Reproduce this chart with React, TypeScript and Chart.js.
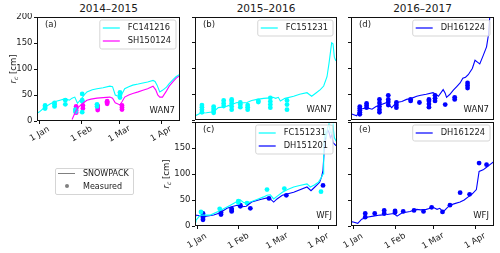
import React, { useEffect, useRef } from 'react';
import { Chart, registerables } from 'chart.js';
Chart.register(...registerables);

const FONT = "'DejaVu Sans', sans-serif";
const CYAN = '#00ffff';
const MAGENTA = '#ff00ff';
const BLUE = '#0000ff';
const TXT = '#1a1a1a';

// month ticks (days since 1 Jan)
const monthLabels = ['1 Jan', '1 Feb', '1 Mar', '1 Apr'];
const ticks2015 = [0, 31, 59, 90];
const ticks2016 = [0, 31, 60, 91];
const ticks2017 = [0, 31, 59, 90];
const yTicks = [0, 50, 100, 150, 200];

// ---- (a) 2014–2015, WAN7
const aFcDays = [-2, 0, 4, 8, 11, 15, 19, 22, 24, 26, 28, 31, 33, 35, 39, 42.5, 47, 52, 54, 56, 59.5, 61, 63, 66, 69, 73, 76.5, 80, 84, 85.5, 87, 89, 91, 94, 96, 99, 101, 104];
const aFcVals = [15, 18, 27, 33, 37, 40, 43, 40, 44, 46, 34, 43, 50, 56, 60, 62, 64, 67, 66, 50, 46, 52, 62, 66, 69, 71, 73, 75, 78, 76, 69, 56, 59, 65, 72, 80, 85, 90];
const aShDays = [24, 26, 28, 31, 33, 35, 38, 42.5, 47, 52, 54, 56, 59.5, 61, 63, 66, 69, 73, 76.5, 80, 84, 86, 87.5, 89, 91, 94, 96, 99, 101, 104];
const aShVals = [3, 15, 25, 32, 36, 40, 42, 44, 45, 46, 44, 35, 31, 37, 46, 50, 53, 56, 59, 62, 67, 60, 50, 46, 46, 58, 67, 76, 82, 88];
const aFcObsDays = [4, 4, 4, 11, 11, 11, 19, 19, 26.5, 26.5, 31.5, 31.5, 31.5, 31.5, 42.5, 42.5, 59.5, 59.5, 59.5];
const aFcObsVals = [24, 27, 30, 28, 32, 35, 32, 40, 18, 22, 17, 38, 40, 52, 28, 32, 45, 50, 55];
const aShObsDays = [27, 27, 27, 27, 32, 32, 43, 43, 43, 50, 50, 50, 61, 61, 61];
const aShObsVals = [16, 20, 24, 28, 24, 30, 21, 25, 29, 33, 36, 38, 22, 26, 30];

// ---- (b) 2015–2016, WAN7
const bFcDays = [-1.5, 2.5, 7, 12.5, 16, 19, 22.5, 26, 30, 33, 37.5, 41, 45, 50, 55, 57, 59, 61, 62.5, 66, 72.5, 77, 82.5, 84, 86, 89, 92.5, 95, 97.5, 99, 101, 102, 103, 104, 105];
const bFcVals = [8, 13, 14, 16, 24, 25, 27, 30, 34, 33, 34, 38, 40, 42, 43, 44, 42, 44, 37, 42, 46, 50, 53, 50, 46, 52, 59, 66, 84, 110, 150, 148, 122, 116, 118];
const bFcObsDays = [3.7, 3.7, 3.7, 3.7, 12.5, 12.5, 12.5, 12.5, 20, 20, 20, 26, 26, 26, 26, 26, 32.5, 32.5, 32.5, 38, 38, 38, 46, 46, 55, 55, 55, 55, 67.5, 67.5, 67.5];
const bFcObsVals = [15, 20, 25, 29, 14, 18, 22, 26, 27, 32, 38, 20, 26, 32, 37, 40, 25, 30, 34, 20, 25, 29, 35, 37, 24, 30, 36, 43, 20, 30, 38];

// ---- (c) 2015–2016, WFJ
const cFcDays = [-1.5, -0.8, 2.5, 10, 17.5, 25, 30, 32.5, 35, 37.5, 41, 45, 50, 52.5, 55, 57.5, 60, 64, 68, 72.5, 77, 82.5, 85, 88, 91, 93, 94.5, 95, 96, 97, 98, 99, 100, 101, 102, 103, 104, 105];
const cFcVals = [8, 11, 21, 21, 30, 40, 47, 50, 45, 44, 47, 51, 56, 59, 60, 52, 57, 65, 70, 75, 78, 81, 75, 79, 84, 92, 100, 151, 183, 170, 190, 196, 180, 178, 192, 170, 165, 160];
const cDhDays = [-1.5, -0.8, 5, 12.5, 17, 22.5, 26, 30, 34, 37, 41, 47.5, 52.5, 55, 57.5, 60, 64, 72.5, 82.5, 85.5, 88, 92, 93.5, 94.5, 95.5, 96, 97, 98, 99, 100, 101, 102, 103, 104, 105];
const cDhVals = [20, 21, 18, 21, 25, 34, 37, 40, 37, 38, 46, 51, 54, 52, 46, 52, 59, 65, 75, 68, 74, 84, 95, 107, 150, 164, 175, 185, 180, 170, 175, 160, 158, 155, 154];
const cFcObsDays = [3, 17, 31, 31, 37.5, 52.5, 65.5, 93];
const cFcObsVals = [27, 33, 45, 48, 44, 70, 72, 66];
const cDhObsDays = [4.5, 4.5, 4.5, 4.5, 18, 18, 26, 26, 26, 32.5, 32.5, 40, 54, 67, 94.5];
const cDhObsVals = [12, 16, 20, 24, 22, 26, 28, 31, 33, 38, 40, 34, 53, 59, 78];

// ---- (d) 2016–2017, WAN7
const dDhDays = [-1.5, -0.5, 2.7, 5, 7, 10, 14, 17, 20, 25, 28.5, 32, 36, 39.5, 43, 47, 50, 54, 59, 61, 63, 66.5, 68, 69, 71.5, 74, 76.5, 79, 81, 83, 85, 88, 90, 92, 93.5, 96, 98.5, 100, 101, 102];
const dDhVals = [12, 11, 8, 21, 22, 24, 21, 26, 29, 34, 24, 34, 36, 40, 42, 46, 48, 50, 53, 50, 46, 59, 52, 44, 50, 58, 65, 72, 81, 83, 88, 100, 116, 112, 109, 125, 142, 167, 205, 230];
const dDhObsDays = [5, 5, 5, 5, 5, 10, 10, 10, 19.5, 19.5, 19.5, 19.5, 19.5, 26, 26, 26, 26, 32, 32, 32, 42.5, 42.5, 49, 56, 56, 56, 56, 60.5, 60.5, 60.5, 68, 75, 75, 84.5, 84.5, 84.5];
const dDhObsVals = [11, 15, 19, 23, 26, 24, 28, 32, 15, 20, 26, 33, 40, 29, 35, 40, 48, 24, 29, 34, 37, 40, 34, 25, 31, 37, 40, 37, 42, 48, 30, 40, 44, 62, 67, 72];

// ---- (e) 2016–2017, WFJ
const eDhDays = [-1.5, -0.5, 3.5, 6.4, 10, 15, 20, 25, 30, 32.5, 36, 42, 47, 50, 54, 57, 59, 62, 64, 66.5, 69, 71.5, 75, 79, 82, 85, 88, 91, 93, 96, 98.5, 101, 104];
const eDhVals = [7, 8, 5, 13, 17, 19, 21, 22, 24, 19, 25, 28, 32, 31, 32, 34, 36, 32, 34, 27, 34, 40, 43, 46, 50, 56, 62, 70, 105, 108, 113, 118, 124];
const eDhObsDays = [9, 9, 16, 23, 23, 31, 31, 37, 45, 52, 58, 66, 71.5, 79, 86, 93, 98.5];
const eDhObsVals = [17, 24, 24, 24, 30, 26, 29, 28, 30, 28, 36, 27, 40, 64, 61, 121, 118];

type Series = { color: string; days: number[]; vals: number[]; kind: 'line' | 'dots' };
type LegendItem = { label: string; color: string };

function roundRectPath(ctx: CanvasRenderingContext2D, x: number, y: number, w: number, h: number, r: number) {
  ctx.beginPath();
  ctx.moveTo(x + r, y);
  ctx.lineTo(x + w - r, y);
  ctx.quadraticCurveTo(x + w, y, x + w, y + r);
  ctx.lineTo(x + w, y + h - r);
  ctx.quadraticCurveTo(x + w, y + h, x + w - r, y + h);
  ctx.lineTo(x + r, y + h);
  ctx.quadraticCurveTo(x, y + h, x, y + h - r);
  ctx.lineTo(x, y + r);
  ctx.quadraticCurveTo(x, y, x + r, y);
  ctx.closePath();
}

const decoPlugin = {
  id: 'deco',
  afterDraw(chart: any) {
    const o = chart.options.plugins.deco;
    const ctx: CanvasRenderingContext2D = chart.ctx;
    const ca = chart.chartArea;
    ctx.save();
    // frame
    ctx.strokeStyle = '#111';
    ctx.lineWidth = 1;
    const l = Math.round(ca.left) + 0.5, t = Math.round(ca.top) + 0.5;
    const r = Math.round(ca.right) - 0.5, b = Math.round(ca.bottom) - 0.5;
    ctx.strokeRect(l, t, r - l, b - t);
    // panel label & station
    ctx.fillStyle = TXT;
    ctx.font = `8.5px ${FONT}`;
    ctx.textAlign = 'left';
    ctx.textBaseline = 'middle';
    ctx.fillText(o.panel, ca.left + 8, ca.top + 8);
    ctx.textAlign = 'right';
    ctx.textBaseline = 'alphabetic';
    ctx.fillText(o.station, ca.right - 5, ca.bottom - 8);
    // x labels (rotated, centred on tick)
    if (o.showX) {
      const xs = chart.scales.x;
      ctx.font = `8.5px ${FONT}`;
      ctx.textAlign = 'center';
      ctx.textBaseline = 'middle';
      o.xTicks.forEach((v: number, i: number) => {
        const px = xs.getPixelForValue(v);
        ctx.save();
        ctx.translate(px, ca.bottom + o.xLabelOffset);
        ctx.rotate(-Math.PI / 6);
        ctx.fillText(monthLabels[i], 0, 0);
        ctx.restore();
      });
    }
    // legend
    const items: LegendItem[] = o.legend;
    ctx.font = `8.3px ${FONT}`;
    const tw = Math.max(...items.map((it) => ctx.measureText(it.label).width));
    const rowH = 13;
    const boxW = 3 + 17 + 8 + tw + 5;
    const boxH = items.length * rowH + 3;
    const bx = ca.right - 4 - boxW, by = ca.top + 3;
    roundRectPath(ctx, bx, by, boxW, boxH, 2);
    ctx.fillStyle = 'rgba(255,255,255,0.8)';
    ctx.fill();
    ctx.strokeStyle = '#d5d5d5';
    ctx.lineWidth = 1;
    ctx.stroke();
    items.forEach((it, i) => {
      const cy = by + 8 + i * rowH;
      ctx.strokeStyle = it.color;
      ctx.lineWidth = 1.2;
      ctx.beginPath();
      ctx.moveTo(bx + 3, cy);
      ctx.lineTo(bx + 20, cy);
      ctx.stroke();
      ctx.fillStyle = TXT;
      ctx.textAlign = 'left';
      ctx.textBaseline = 'middle';
      ctx.fillText(it.label, bx + 28, cy);
    });
    ctx.restore();
  },
};

type PanelProps = {
  left: number; top: number; w: number; h: number;
  yw: number; xh: number; pt: number; pr: number;
  xmin: number; xmax: number; xTicks: number[];
  showX: boolean; showY: boolean; yLabelled: number[];
  series: Series[]; legend: LegendItem[]; panel: string; station: string;
  xLabelOffset: number;
};

function Panel(p: PanelProps) {
  const ref = useRef<HTMLCanvasElement>(null);
  const cw = p.yw + p.w + p.pr;
  const ch = p.pt + p.h + p.xh;
  useEffect(() => {
    const chart = new Chart(ref.current as HTMLCanvasElement, {
      type: 'scatter',
      data: {
        datasets: p.series.map((s) => ({
          data: s.days.map((d, i) => ({ x: d, y: s.vals[i] })),
          showLine: s.kind === 'line',
          borderColor: s.color,
          backgroundColor: s.color,
          borderWidth: s.kind === 'line' ? 1.1 : 0,
          pointRadius: s.kind === 'line' ? 0 : 2.4,
          pointBorderWidth: 0,
          tension: 0,
        })),
      } as any,
      options: {
        animation: false,
        responsive: false,
        events: [],
        layout: { padding: { left: 0, top: p.pt, right: p.pr, bottom: 0 } },
        plugins: {
          legend: { display: false },
          tooltip: { enabled: false },
          deco: { panel: p.panel, station: p.station, legend: p.legend, showX: p.showX, xTicks: p.xTicks, xLabelOffset: p.xLabelOffset },
        } as any,
        scales: {
          x: {
            type: 'linear',
            min: p.xmin,
            max: p.xmax,
            afterBuildTicks: (s: any) => { s.ticks = p.xTicks.map((v) => ({ value: v })); },
            afterFit: (s: any) => { s.height = p.xh; s.paddingLeft = 0; s.paddingRight = 0; },
            ticks: { display: false, autoSkip: false },
            grid: { display: p.showX, drawOnChartArea: false, drawTicks: true, tickLength: 3, tickColor: '#111', lineWidth: 1 },
            border: { display: false },
          },
          y: {
            type: 'linear',
            min: 0,
            max: 200,
            afterBuildTicks: (s: any) => { s.ticks = yTicks.map((v) => ({ value: v })); },
            afterFit: (s: any) => { s.width = p.yw; s.paddingTop = 0; s.paddingBottom = 0; },
            ticks: {
              display: true,
              autoSkip: false,
              padding: 1.5,
              color: TXT,
              font: { family: FONT, size: 8.5 },
              callback: (v: any) => (p.showY && p.yLabelled.includes(Number(v)) ? String(v) : ''),
            },
            grid: { display: true, drawOnChartArea: false, drawTicks: true, tickLength: 3, tickColor: '#111', lineWidth: 1 },
            border: { display: false },
          },
        },
      } as any,
      plugins: [decoPlugin],
    });
    return () => chart.destroy();
  }, []);
  return (
    <canvas
      ref={ref}
      width={cw}
      height={ch}
      style={{ position: 'absolute', left: p.left - p.yw, top: p.top - p.pt, width: cw, height: ch }}
    />
  );
}

function YLabel({ cx, cy }: { cx: number; cy: number }) {
  return (
    <div
      style={{
        position: 'absolute', left: cx - 30, top: cy - 6, width: 60, height: 12,
        lineHeight: '12px', fontSize: '8.5px', textAlign: 'center', color: TXT,
        transform: 'rotate(-90deg)', whiteSpace: 'nowrap',
      }}
    >
      <span style={{ fontStyle: 'italic' }}>r</span>
      <span style={{ fontStyle: 'italic', fontSize: '6px', position: 'relative', top: '2px' }}>c</span>
      <span> [cm]</span>
    </div>
  );
}

function Title({ cx, text }: { cx: number; text: string }) {
  return (
    <div style={{ position: 'absolute', left: cx - 50, top: 2, width: 100, textAlign: 'center', fontSize: '10.5px', lineHeight: '13px', color: TXT }}>
      {text}
    </div>
  );
}

export default function App() {
  const top1 = 16, top2 = 121, H = 105;
  return (
    <div style={{ position: 'absolute', left: 0, top: 0, width: 500, height: 253, overflow: 'hidden', background: '#fff', fontFamily: FONT }}>
      <Title cx={108.5} text="2014–2015" />
      <Title cx={266} text="2015–2016" />
      <Title cx={422.5} text="2016–2017" />
      <Panel left={37} top={top1} w={143} h={H} yw={37} xh={27} pt={3} pr={4}
        xmin={-2} xmax={104} xTicks={ticks2015} showX={true} showY={true} yLabelled={[0, 50, 100, 150, 200]}
        series={[
          { color: CYAN, days: aFcDays, vals: aFcVals, kind: 'line' },
          { color: MAGENTA, days: aShDays, vals: aShVals, kind: 'line' },
          { color: CYAN, days: aFcObsDays, vals: aFcObsVals, kind: 'dots' },
          { color: MAGENTA, days: aShObsDays, vals: aShObsVals, kind: 'dots' },
        ]}
        legend={[{ label: 'FC141216', color: CYAN }, { label: 'SH150124', color: MAGENTA }]}
        panel="(a)" station="WAN7" xLabelOffset={13} />
      <Panel left={195} top={top1} w={142} h={H} yw={20} xh={3} pt={3} pr={4}
        xmin={-1.5} xmax={105} xTicks={ticks2016} showX={false} showY={false} yLabelled={[]}
        series={[
          { color: CYAN, days: bFcDays, vals: bFcVals, kind: 'line' },
          { color: CYAN, days: bFcObsDays, vals: bFcObsVals, kind: 'dots' },
        ]}
        legend={[{ label: 'FC151231', color: CYAN }]}
        panel="(b)" station="WAN7" xLabelOffset={13} />
      <Panel left={351} top={top1} w={143} h={H} yw={20} xh={3} pt={3} pr={4}
        xmin={-1.5} xmax={104} xTicks={ticks2017} showX={false} showY={false} yLabelled={[]}
        series={[
          { color: BLUE, days: dDhDays, vals: dDhVals, kind: 'line' },
          { color: BLUE, days: dDhObsDays, vals: dDhObsVals, kind: 'dots' },
        ]}
        legend={[{ label: 'DH161224', color: BLUE }]}
        panel="(d)" station="WAN7" xLabelOffset={13} />
      <Panel left={195} top={top2} w={142} h={H} yw={35} xh={27} pt={3} pr={4}
        xmin={-1.5} xmax={105} xTicks={ticks2016} showX={true} showY={true} yLabelled={[0, 50, 100, 150]}
        series={[
          { color: CYAN, days: cFcDays, vals: cFcVals, kind: 'line' },
          { color: BLUE, days: cDhDays, vals: cDhVals, kind: 'line' },
          { color: CYAN, days: cFcObsDays, vals: cFcObsVals, kind: 'dots' },
          { color: BLUE, days: cDhObsDays, vals: cDhObsVals, kind: 'dots' },
        ]}
        legend={[{ label: 'FC151231', color: CYAN }, { label: 'DH151201', color: BLUE }]}
        panel="(c)" station="WFJ" xLabelOffset={15} />
      <Panel left={351} top={top2} w={143} h={H} yw={20} xh={27} pt={3} pr={4}
        xmin={-1.5} xmax={104} xTicks={ticks2017} showX={true} showY={false} yLabelled={[]}
        series={[
          { color: BLUE, days: eDhDays, vals: eDhVals, kind: 'line' },
          { color: BLUE, days: eDhObsDays, vals: eDhObsVals, kind: 'dots' },
        ]}
        legend={[{ label: 'DH161224', color: BLUE }]}
        panel="(e)" station="WFJ" xLabelOffset={15} />
      <YLabel cx={12.5} cy={68.5} />
      <YLabel cx={166} cy={173.5} />
      {/* shared legend */}
      <div style={{ position: 'absolute', left: 55, top: 168, width: 79, height: 27, border: '1px solid #d5d5d5', borderRadius: 2, boxSizing: 'border-box', background: '#fff' }} />
      <div style={{ position: 'absolute', left: 58, top: 173, width: 17, height: 1, background: '#808080' }} />
      <div style={{ position: 'absolute', left: 65, top: 184, width: 4, height: 4, borderRadius: '50%', background: '#808080' }} />
      <div style={{ position: 'absolute', left: 83, top: 167.5, fontSize: '8px', lineHeight: '11px', color: TXT }}>SNOWPACK</div>
      <div style={{ position: 'absolute', left: 83, top: 180.5, fontSize: '8px', lineHeight: '11px', color: TXT }}>Measured</div>
    </div>
  );
}
